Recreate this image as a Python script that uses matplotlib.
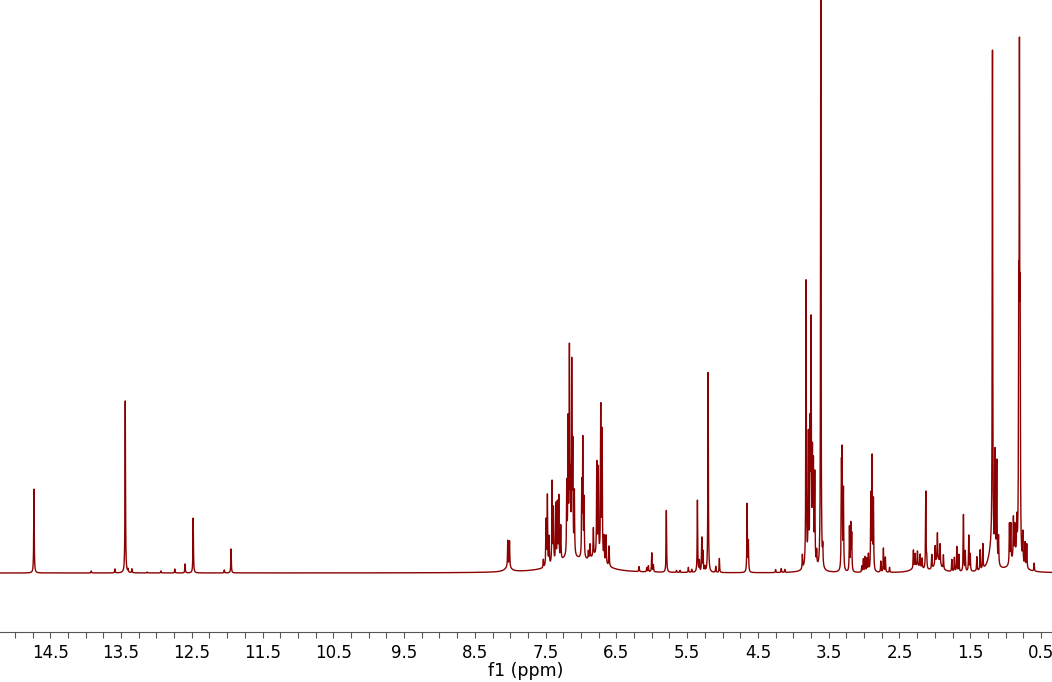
import numpy as np
import matplotlib
matplotlib.use("Agg")
import matplotlib.pyplot as plt
from matplotlib.ticker import FixedLocator, MultipleLocator, FormatStrFormatter

peak_ppm = [
    14.73, 13.92, 13.585, 13.44, 13.40, 13.345, 13.13, 12.935, 12.74, 12.595, 12.48, 12.04, 11.945,
    8.035, 8.01,
    7.532, 7.494, 7.475, 7.451, 7.409, 7.390, 7.357, 7.334, 7.314, 7.286,
    7.201, 7.183, 7.164, 7.150, 7.131, 7.116, 7.094,
    6.989, 6.975, 6.957, 6.896, 6.872, 6.825, 6.777, 6.755, 6.721, 6.702, 6.674, 6.646, 6.603,
    6.179, 6.071, 6.048, 6.000, 5.977, 5.794, 5.65, 5.60, 5.483, 5.435,
    5.355, 5.327, 5.293, 5.275, 5.25, 5.204, 5.096, 5.045, 4.653, 4.635,
    4.25, 4.17, 4.12,
    3.872, 3.820, 3.787, 3.763, 3.749, 3.730, 3.716, 3.697, 3.67, 3.612, 3.584,
    3.320, 3.311, 3.292, 3.207, 3.188, 3.175,
    3.032, 3.01, 2.985, 2.96, 2.939, 2.905, 2.887, 2.868, 2.764, 2.727, 2.699, 2.64,
    2.303, 2.279, 2.246, 2.208, 2.18, 2.128, 2.115, 2.043, 1.996, 1.964, 1.926, 1.879,
    1.76, 1.724, 1.690, 1.66, 1.596, 1.57, 1.521, 1.50, 1.407, 1.36, 1.322,
    1.186, 1.149, 1.125, 1.10,
    0.946, 0.927, 0.890, 0.87, 0.842, 0.815, 0.805, 0.795, 0.757, 0.725, 0.701, 0.597,
]
peak_height = [
    84, 2, 4, 172, 3, 4, 1, 2, 4, 9, 55, 3, 24,
    26, 26,
    8, 46, 70, 28, 82, 54, 58, 58, 64, 34,
    70, 130, 200, 66, 186, 104, 62,
    72, 116, 58, 8, 14, 28, 92, 86, 150, 126, 24, 28, 20,
    5, 4, 6, 19, 7, 62, 2, 2, 5, 3,
    72, 11, 34, 20, 5, 200, 6, 14, 68, 30,
    3, 4, 3,
    14, 285, 125, 125, 230, 100, 92, 88, 14, 580, 18,
    95, 108, 80, 44, 46, 36,
    6, 13, 15, 13, 17, 75, 112, 70, 11, 24, 15, 5,
    18, 13, 15, 13, 10, 78, 10, 14, 18, 27, 20, 14,
    12, 14, 25, 17, 57, 20, 36, 17, 14, 20, 25,
    500, 105, 100, 28,
    40, 38, 40, 30, 34, 225, 465, 215, 30, 24, 24, 8,
]

# componentes largas (ppm, intensidade, largura)
broad_ppm = [8.03, 7.15, 6.78, 2.25, 1.96, 1.20, 0.86, 3.75]
broad_height = [5, 14, 12, 6, 12, 22, 14, 10]
broad_width = [0.05, 0.25, 0.12, 0.08, 0.05, 0.05, 0.08, 0.06]

line_width = 0.004


def lorentz(x, x0, h, w):
    return h * w**2 / (w**2 + (x - x0) ** 2)


ppm = np.linspace(0.345, 15.21, 30000)
spec = np.zeros_like(ppm)
for p, h in zip(peak_ppm, peak_height):
    spec += lorentz(ppm, p, h, line_width)
for p, h, w in zip(broad_ppm, broad_height, broad_width):
    spec += lorentz(ppm, p, h, w)

fig = plt.figure(figsize=(10.52, 6.82), dpi=100)
ax = fig.add_axes([0, 50 / 682, 1, 632 / 682])
ax.plot(ppm, spec, color="#8b0000", linewidth=1.0)

ax.set_xlim(15.21, 0.345)
ax.set_ylim(-59, 573)

for s in ["top", "left", "right"]:
    ax.spines[s].set_visible(False)
ax.spines["bottom"].set_color("#555555")
ax.set_yticks([])

ax.xaxis.set_major_locator(FixedLocator(np.arange(0.5, 15.0, 1.0)))
ax.xaxis.set_major_formatter(FormatStrFormatter("%.1f"))
ax.xaxis.set_minor_locator(MultipleLocator(0.25))
ax.tick_params(axis="x", which="both", direction="out", length=4.5, width=0.8,
               color="#555555", labelsize=12, pad=4)
ax.set_xlabel("f1 (ppm)", fontsize=12.5, labelpad=0)
ax.set_facecolor("white")

fig.savefig("out.png", dpi=100)
